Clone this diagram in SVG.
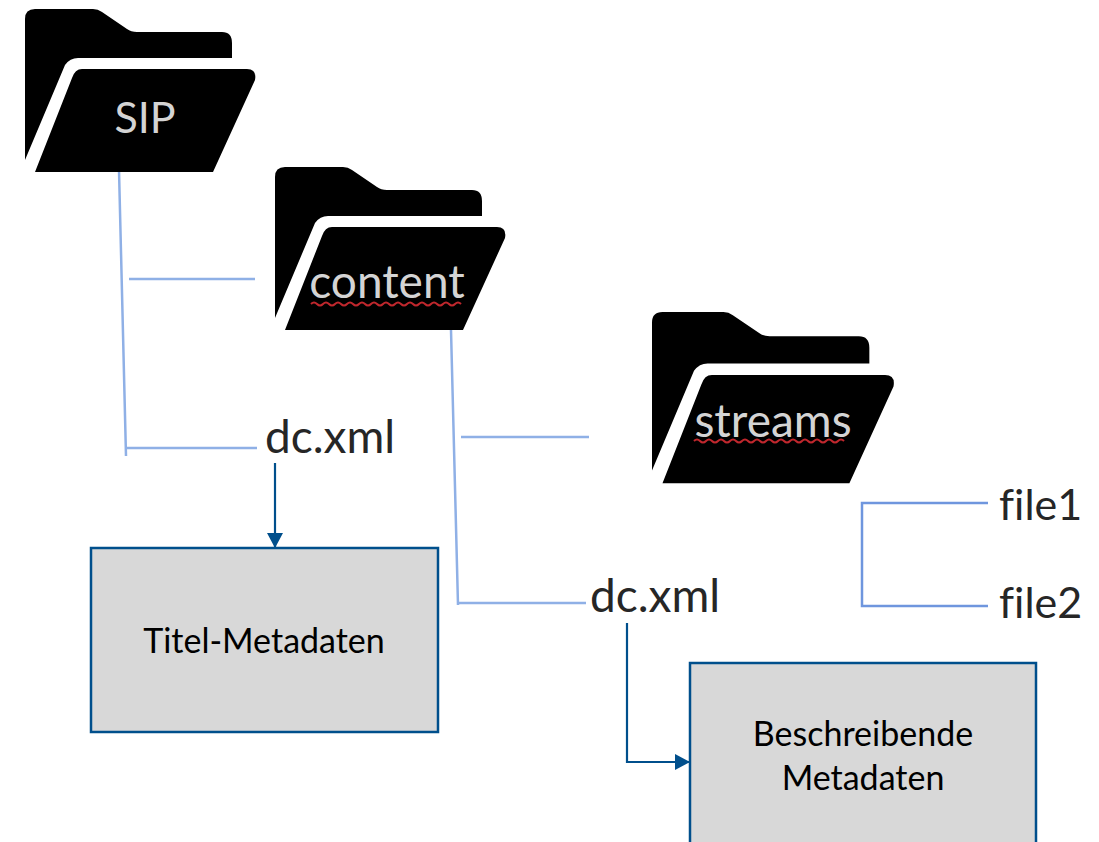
<svg xmlns="http://www.w3.org/2000/svg" width="1099" height="842" viewBox="0 0 1099 842">
<style>
.lb{fill:none;stroke:#8fb0e6;stroke-width:2.5}
.lb2{fill:none;stroke:#6f96de;stroke-width:2.5}
.ar{fill:none;stroke:#004f8c;stroke-width:2.2}
.box{fill:#d8d8d8;stroke:#004f8c;stroke-width:2.5}
text{font-variant-ligatures:none}
.t{font-family:"Lato","Open Sans","Liberation Sans",sans-serif;fill:#262626}
.big{font-size:46px}
.f{font-size:43px}
.mid{font-size:34px;fill:#000}
.fl{font-family:"Lato","Open Sans","Liberation Sans",sans-serif;fill:#d4d4d4;font-size:46px}
.sq{fill:none;stroke:#c0272d;stroke-width:2}
</style>
<defs>
<marker id="a2" markerWidth="15" markerHeight="16" refX="14" refY="8" orient="auto" markerUnits="userSpaceOnUse" viewBox="0 0 15 16"><path d="M0 0L15 8L0 16z" fill="#004f8c"/></marker>
<path id="folder" d="M0 10Q0 0 10 0H68Q73 0 77 3L102 20Q106 23 112 23H197Q207 23 207 34V49H53Q45 49 40 56L0 151Z M10 163L47 69Q50 60 57 60H222Q232 60 230 71L188 163Z"/>
</defs>
<g id="connectors">
<path class="lb" d="M119 170L126 456M129 279H255M126 448H257"/>
<path class="lb" d="M451 330L458 605M458 603H586M461 437H589"/>
<path class="lb2" d="M988 503H862V606H988"/>
<path class="ar" marker-end="url(#a2)" d="M275 463V547"/>
<path class="ar" marker-end="url(#a2)" d="M627 623V762H689"/>
</g>
<g id="sip"><use href="#folder" x="25" y="9"/><text class="fl" style="font-size:43px" x="145" y="133" text-anchor="middle">SIP</text></g>
<g id="content"><use href="#folder" x="275" y="167"/><text class="fl" x="387" y="298" text-anchor="middle">content</text><path class="sq" d="M311 304q3-3 6 0t6 0 6 0 6 0 6 0 6 0 6 0 6 0 6 0 6 0 6 0 6 0 6 0 6 0 6 0 6 0 6 0 6 0 6 0 6 0 6 0 6 0 6 0 6 0 6 0"/></g>
<g id="streams"><use href="#folder" transform="translate(652 312) scale(1.05)"/><text class="fl" x="773" y="437" text-anchor="middle">streams</text><path class="sq" d="M694 441q3-3 6 0t6 0 6 0 6 0 6 0 6 0 6 0 6 0 6 0 6 0 6 0 6 0 6 0 6 0 6 0 6 0 6 0 6 0 6 0 6 0 6 0 6 0 6 0 6 0 6 0"/></g>
<g id="dc1"><text class="t big" x="265" y="453">dc.xml</text></g>
<g id="dc2"><text class="t big" x="590" y="612">dc.xml</text></g>
<g id="file1"><text class="t f" x="999" y="520">file1</text></g>
<g id="file2"><text class="t f" x="999" y="618">file2</text></g>
<g id="titel"><rect class="box" x="91" y="548" width="347" height="184"/><text class="t mid" x="264" y="653" text-anchor="middle">Titel-Metadaten</text></g>
<g id="beschreibende"><path class="box" d="M690 850V663H1036V850"/><text class="t mid" x="863" y="746" text-anchor="middle">Beschreibende</text><text class="t mid" x="863" y="790" text-anchor="middle">Metadaten</text></g>
</svg>
